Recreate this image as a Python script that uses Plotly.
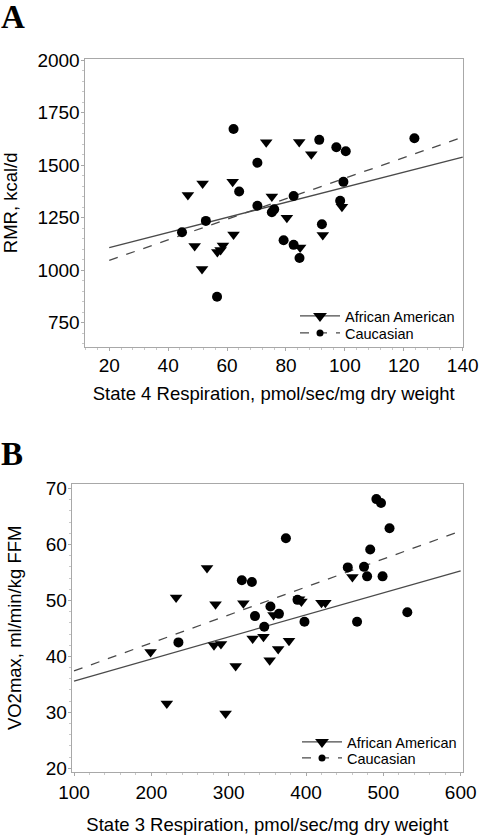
import plotly.graph_objects as go

W, H = 481, 837

# ---------------- Panel A data ----------------
a_aa_x = [73.3, 84.5, 88.6, 51.7, 61.9, 46.7, 75.2, 49.0, 51.5, 62.2, 56.7, 57.8, 58.6, 80.3, 84.8, 92.5, 99.0]
a_aa_y = [1609, 1610, 1551, 1412, 1420, 1357, 1350, 1115, 1005, 1169, 1086, 1095, 1117, 1249, 1107, 1167, 1301]

a_cau_x = [62.2, 70.3, 91.3, 97.1, 100.3, 123.6, 99.5, 64.1, 82.6, 98.4, 44.7, 52.8, 70.3, 75.2, 76.0, 79.2, 82.6, 84.6, 92.2, 56.6]
a_cau_y = [1672, 1511, 1620, 1585, 1566, 1628, 1420, 1374, 1353, 1330, 1180, 1234, 1306, 1275, 1289, 1142, 1120, 1057, 1218, 873]

a_fit_x = [20, 140]
a_fit_aa_y = [1107, 1538]
a_fit_cau_y = [1046, 1633]

# ---------------- Panel B data ----------------
b_aa_x = [272, 232, 283, 319, 391, 394, 420, 425, 460, 358, 199, 220, 281, 290, 296, 309, 331, 345, 353, 364, 378]
b_aa_y = [55.8, 50.5, 49.3, 49.5, 50.2, 49.8, 49.6, 49.6, 54.2, 47.4, 40.8, 31.6, 42.0, 42.2, 29.8, 38.3, 43.2, 43.5, 39.3, 41.3, 42.8]

b_cau_x = [491, 497, 508, 374, 483, 454, 475, 479, 499, 317, 330, 389, 354, 365, 334, 398, 466, 531, 346, 235]
b_cau_y = [68.1, 67.4, 62.9, 61.1, 59.1, 55.9, 56.0, 54.3, 54.3, 53.6, 53.3, 50.1, 48.9, 47.6, 47.2, 46.2, 46.2, 47.9, 45.3, 42.5]

b_fit_x = [100, 600]
b_fit_aa_y = [35.6, 55.3]
b_fit_cau_y = [37.4, 62.4]

group_names = ["African American", "Caucasian"]

FONT = "Liberation Sans, Arial, sans-serif"
FRAME = "#a8a8a8"
LINEC = "#4a4a4a"

fig = go.Figure()

def add_panel(xa, ya, aa_x, aa_y, cau_x, cau_y, fit_x, fit_aa, fit_cau, leg_aa, leg_cau):
    fig.add_trace(go.Scatter(x=fit_x, y=fit_aa, mode="lines", xaxis=xa, yaxis=ya,
                             line=dict(color=LINEC, width=1.3), showlegend=False, hoverinfo="skip"))
    fig.add_trace(go.Scatter(x=fit_x, y=fit_cau, mode="lines", xaxis=xa, yaxis=ya,
                             line=dict(color=LINEC, width=1.3, dash="dash"), showlegend=False, hoverinfo="skip"))
    fig.add_trace(go.Scatter(x=aa_x, y=aa_y, mode="markers", xaxis=xa, yaxis=ya,
                             marker=dict(symbol="triangle-down", size=11, color="black"),
                             showlegend=False))
    fig.add_trace(go.Scatter(x=cau_x, y=cau_y, mode="markers", xaxis=xa, yaxis=ya,
                             marker=dict(symbol="circle", size=10, color="black"),
                             showlegend=False))
    # legend entries (one legend box per row so the rows can be placed exactly)
    fig.add_trace(go.Scatter(x=[None], y=[None], mode="lines+markers", xaxis=xa, yaxis=ya,
                             name=group_names[0], legend=leg_aa,
                             line=dict(color=LINEC, width=1.3),
                             marker=dict(symbol="triangle-down", size=12, color="black")))
    fig.add_trace(go.Scatter(x=[None], y=[None], mode="lines+markers", xaxis=xa, yaxis=ya,
                             name=group_names[1], legend=leg_cau,
                             line=dict(color=LINEC, width=1.3, dash="dash"),
                             marker=dict(symbol="circle", size=7, color="black")))

add_panel("x", "y", a_aa_x, a_aa_y, a_cau_x, a_cau_y, a_fit_x, a_fit_aa_y, a_fit_cau_y, "legend", "legend2")
add_panel("x2", "y2", b_aa_x, b_aa_y, b_cau_x, b_cau_y, b_fit_x, b_fit_aa_y, b_fit_cau_y, "legend3", "legend4")

def px_x(p):
    return p / W

def px_y(p):
    return 1 - p / H

def axis(domain, rng, dtick, tick0, minor_dtick, title, standoff, anchor, lab_off):
    return dict(
        domain=domain, range=rng, anchor=anchor, automargin=False,
        dtick=dtick, tick0=tick0,
        showline=True, mirror=True, linecolor=FRAME, linewidth=1,
        ticks="outside", ticklen=3, tickcolor=FRAME, tickwidth=1,
        ticklabelstandoff=lab_off,
        minor=dict(ticks="outside", ticklen=2, dtick=minor_dtick, tickcolor="#c8c8c8"),
        showgrid=False, zeroline=False,
        tickfont=dict(family=FONT, size=19, color="black"),
        title=dict(text=title, font=dict(family=FONT, size=18.5, color="black"), standoff=standoff),
    )

def leg(xp, yp):
    return dict(x=px_x(xp), y=px_y(yp), xanchor="left", yanchor="middle",
                bgcolor="rgba(0,0,0,0)", borderwidth=0,
                font=dict(family=FONT, size=14.5, color="black"),
                tracegroupgap=0, itemwidth=40)

fig.update_layout(
    width=W, height=H,
    margin=dict(l=0, r=0, t=0, b=0, pad=0, autoexpand=False),
    paper_bgcolor="white", plot_bgcolor="white",
    xaxis=axis([px_x(84.5), px_x(463)], [11.6, 140.1], 20, 20, 4,
               "State 4 Respiration, pmol/sec/mg dry weight", 12, "y", -2),
    yaxis=axis([px_y(346.7), px_y(59)], [635, 2005], 250, 750, 50,
               "RMR, kcal/d", 15, "x", -3),
    xaxis2=axis([px_x(71.7), px_x(463)], [97, 603], 100, 100, 20,
                "State 3 Respiration, pmol/sec/mg dry weight", 16, "y2", 0),
    yaxis2=axis([px_y(771.7), px_y(484)], [19.4, 70.8], 10, 20, 2,
                "VO2max, ml/min/kg FFM", 19, "x2", -3),
    legend=leg(295, 316),
    legend2=leg(295, 333),
    legend3=leg(297, 742),
    legend4=leg(297, 758),
    annotations=[
        dict(text="<b>A</b>", x=px_x(-1), y=px_y(-3), xref="paper", yref="paper",
             xanchor="left", yanchor="top", showarrow=False,
             font=dict(family="Liberation Serif, Times New Roman, serif", size=33, color="black")),
        dict(text="<b>B</b>", x=px_x(-1), y=px_y(434), xref="paper", yref="paper",
             xanchor="left", yanchor="top", showarrow=False,
             font=dict(family="Liberation Serif, Times New Roman, serif", size=33, color="black")),
    ],
)

# remove the browser's default 8px page margin so the figure fills the window exactly
fig.write_html("out.html", config={"displayModeBar": False},
               post_script="document.body.style.margin='0';")
